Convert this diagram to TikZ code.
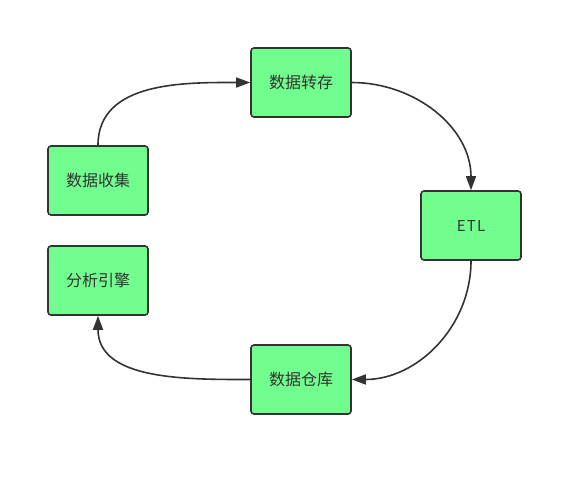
\documentclass[tikz,border=0pt]{standalone}
\usepackage{fontspec}
\setmainfont{Noto Sans CJK SC}
\definecolor{boxGreen}{HTML}{72FD8F}
\definecolor{lineGray}{HTML}{333333}
\usepackage{tikz}
\usetikzlibrary{arrows.meta, positioning}

\begin{document}
\begin{tikzpicture}[x=1pt, y=-1pt, font=\fontsize{16}{19}\selectfont, >={Triangle[length=14pt, width=10pt]}]
        \useasboundingbox (0,0) rectangle (583,477);
        % Nodes
        \node[draw=lineGray, line width=1.6pt, rounded corners=3pt, fill=boxGreen, minimum width=100pt, minimum height=69pt, text=lineGray] (collect) at (98,180.5) {数据收集};
        \node[draw=lineGray, line width=1.6pt, rounded corners=3pt, fill=boxGreen, minimum width=100pt, minimum height=69pt, text=lineGray] (engine) at (98,280.5) {分析引擎};
        \node[draw=lineGray, line width=1.6pt, rounded corners=3pt, fill=boxGreen, minimum width=100pt, minimum height=69pt, text=lineGray] (dump) at (301,82.5) {数据转存};
        \node[draw=lineGray, line width=1.6pt, rounded corners=3pt, fill=boxGreen, minimum width=100pt, minimum height=69pt, text=lineGray, font=\fontsize{15}{19}\selectfont\addfontfeature{LetterSpace=8}] (etl) at (471,225.5) {ETL};
        \node[draw=lineGray, line width=1.6pt, rounded corners=3pt, fill=boxGreen, minimum width=100pt, minimum height=69pt, text=lineGray] (warehouse) at (301,379.5) {数据仓库};

        % Paths
        \draw[->, line width=1.6pt, lineGray] (collect.north) to[out=90, in=180] (dump.west);
        \draw[->, line width=1.6pt, lineGray] (dump.east) to[out=0, in=90] (etl.north);
        \draw[->, line width=1.6pt, lineGray] (etl.south) to[out=-90, in=0] (warehouse.east);
        \draw[->, line width=1.6pt, lineGray] (warehouse.west) to[out=180, in=-90] (engine.south);
    \end{tikzpicture}
\end{document}
